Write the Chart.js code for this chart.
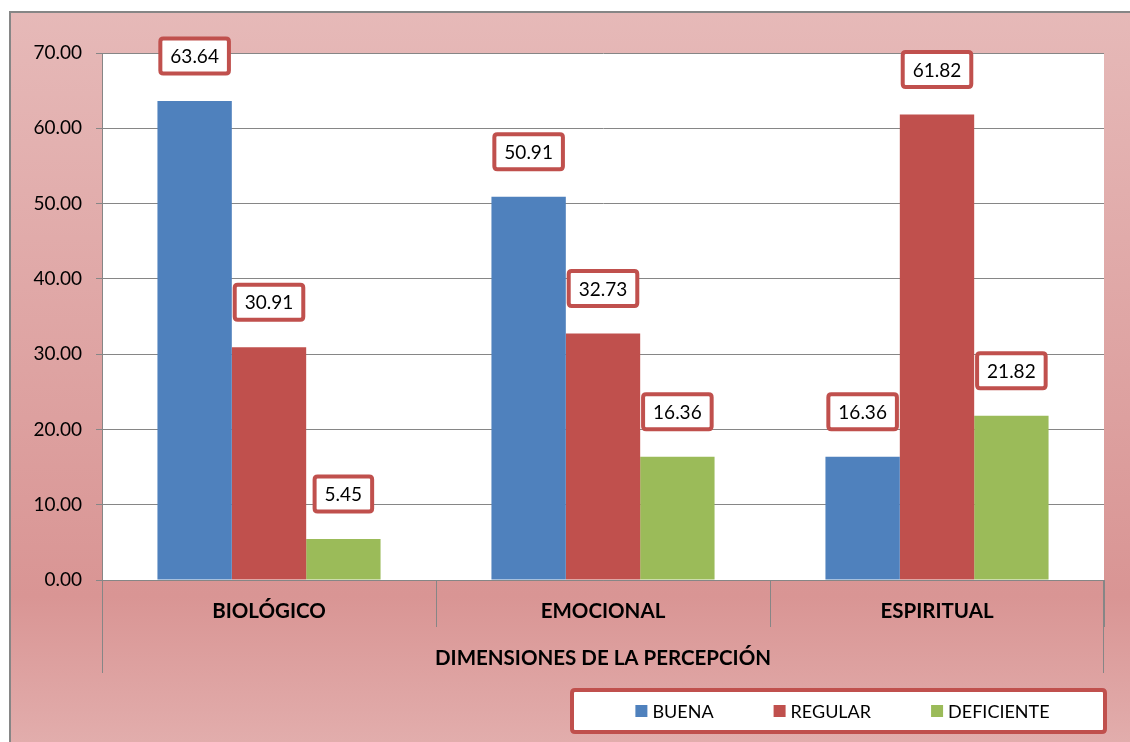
<!DOCTYPE html>
<html>
<head>
<meta charset="utf-8">
<script src="https://cdn.jsdelivr.net/npm/chart.js@4.4.0/dist/chart.umd.min.js"></script>
<style>
    html, body { margin: 0; padding: 0; background: #fff; }
    canvas { display: block; }
</style>
</head>
<body>
<canvas id="percepcionChart" width="1130" height="742"></canvas>
<script>
// datos del gráfico
const categories = ['BIOLÓGICO', 'EMOCIONAL', 'ESPIRITUAL'];
const seriesNames = ['BUENA', 'REGULAR', 'DEFICIENTE'];
const buena = [63.64, 50.91, 16.36];
const regular = [30.91, 32.73, 61.82];
const deficiente = [5.45, 16.36, 21.82];
const yTickLabels = ['0.00', '10.00', '20.00', '30.00', '40.00', '50.00', '60.00', '70.00'];
const axisTitle = 'DIMENSIONES DE LA PERCEPCIÓN';

const colors = ['#4f81bd', '#c0504d', '#9bbb59'];
const gridGrey = '#868686';
const FONT = 'Lato, "Open Sans", sans-serif';

// fondo degradado + área de trazado blanca
const backgroundPlugin = {
    id: 'background',
    beforeDraw(chart) {
        const { ctx, width, height, chartArea } = chart;
        ctx.save();
        const grad = ctx.createLinearGradient(0, 12, 0, height);
        grad.addColorStop(0, '#e6b9b8');
        grad.addColorStop(0.8, '#d99594');
        grad.addColorStop(1, '#e2adac');
        ctx.fillStyle = grad;
        ctx.fillRect(10, 12, width - 10, height - 12);
        ctx.strokeStyle = gridGrey;
        ctx.lineWidth = 2;
        ctx.beginPath();
        ctx.moveTo(10, height);
        ctx.lineTo(10, 12);
        ctx.lineTo(width, 12);
        ctx.stroke();
        ctx.fillStyle = '#ffffff';
        ctx.fillRect(chartArea.left, chartArea.top, chartArea.right - chartArea.left, chartArea.bottom - chartArea.top);
        ctx.restore();
    }
};

// líneas exteriores del eje de categorías (dos niveles)
const axisFramePlugin = {
    id: 'axisFrame',
    afterDraw(chart) {
        const { ctx } = chart;
        const x = chart.scales.x;
        ctx.save();
        ctx.strokeStyle = gridGrey;
        ctx.lineWidth = 1;
        ctx.beginPath();
        ctx.moveTo(Math.round(x.left) + 0.5, x.top);
        ctx.lineTo(Math.round(x.left) + 0.5, x.top + 93);
        ctx.moveTo(Math.round(x.right) - 0.5, x.top);
        ctx.lineTo(Math.round(x.right) - 0.5, x.top + 93);
        ctx.stroke();
        ctx.restore();
    }
};

function roundBox(ctx, x, y, w, h, r) {
    ctx.beginPath();
    ctx.moveTo(x + r, y);
    ctx.lineTo(x + w - r, y);
    ctx.quadraticCurveTo(x + w, y, x + w, y + r);
    ctx.lineTo(x + w, y + h - r);
    ctx.quadraticCurveTo(x + w, y + h, x + w - r, y + h);
    ctx.lineTo(x + r, y + h);
    ctx.quadraticCurveTo(x, y + h, x, y + h - r);
    ctx.lineTo(x, y + r);
    ctx.quadraticCurveTo(x, y, x + r, y);
    ctx.closePath();
}

// etiquetas de datos en recuadros
const valueLabelPlugin = {
    id: 'valueLabels',
    afterDatasetsDraw(chart) {
        const { ctx } = chart;
        ctx.save();
        ctx.font = '19px ' + FONT;
        ctx.textAlign = 'center';
        ctx.textBaseline = 'middle';
        chart.data.datasets.forEach((ds, i) => {
            chart.getDatasetMeta(i).data.forEach((bar, j) => {
                const text = ds.data[j].toFixed(2);
                const w = ctx.measureText(text).width + 20;
                const h = 35;
                const cy = bar.y - 45;
                roundBox(ctx, bar.x - w / 2, cy - h / 2, w, h, 3);
                ctx.fillStyle = '#ffffff';
                ctx.fill();
                ctx.lineWidth = 4;
                ctx.strokeStyle = '#c0504d';
                ctx.stroke();
                ctx.fillStyle = '#000000';
                ctx.fillText(text, bar.x, cy + 1);
            });
        });
        ctx.restore();
    }
};

// leyenda en recuadro abajo a la derecha
const boxedLegendPlugin = {
    id: 'boxedLegend',
    afterDraw(chart) {
        const { ctx, chartArea } = chart;
        const left = 572, right = chartArea.right + 1, top = 690, bottom = 732;
        ctx.save();
        roundBox(ctx, left, top, right - left, bottom - top, 3);
        ctx.fillStyle = '#ffffff';
        ctx.fill();
        ctx.lineWidth = 4;
        ctx.strokeStyle = '#c0504d';
        ctx.stroke();

        ctx.font = '18px ' + FONT;
        ctx.textBaseline = 'middle';
        const gap = 60;
        const items = chart.data.datasets.map(ds => ({
            label: ds.label, color: ds.backgroundColor, w: 17 + ctx.measureText(ds.label).width
        }));
        const total = items.reduce((s, it) => s + it.w, 0) + gap * (items.length - 1);
        let x = (left + right) / 2 - total / 2 + 4;
        const cy = (top + bottom) / 2;
        items.forEach(it => {
            ctx.fillStyle = it.color;
            ctx.fillRect(x, cy - 6, 12, 12);
            ctx.fillStyle = '#000000';
            ctx.fillText(it.label, x + 17, cy + 1);
            x += it.w + gap;
        });
        ctx.restore();
    }
};

const ctx = document.getElementById('percepcionChart').getContext('2d');
const percepcionChart = new Chart(ctx, {
    type: 'bar',
    data: {
        labels: categories,
        datasets: [buena, regular, deficiente].map((values, i) => ({
            label: seriesNames[i],
            data: values,
            backgroundColor: colors[i],
            borderWidth: 0,
            barPercentage: 1,
            categoryPercentage: 0.668
        }))
    },
    options: {
        responsive: false,
        animation: false,
        devicePixelRatio: 1,
        layout: { padding: { left: 10, right: 26, top: 53, bottom: 60 } },
        plugins: {
            legend: { display: false },
            tooltip: { enabled: false }
        },
        scales: {
            y: {
                min: 0,
                max: 70,
                ticks: {
                    stepSize: 10,
                    padding: 14,
                    color: '#000000',
                    font: { family: FONT, size: 19 },
                    callback: (value) => yTickLabels[value / 10]
                },
                grid: { color: gridGrey, tickLength: 6, tickColor: gridGrey },
                border: { color: gridGrey },
                afterFit: (scale) => { scale.width = 92; }
            },
            x: {
                ticks: {
                    padding: -28,
                    color: '#000000',
                    font: { family: FONT, size: 20.5, weight: 'bold' }
                },
                grid: {
                    offset: true,
                    drawOnChartArea: false,
                    tickLength: 47,
                    color: gridGrey
                },
                border: { color: gridGrey },
                title: {
                    display: true,
                    text: axisTitle,
                    color: '#000000',
                    font: { family: FONT, size: 20.5, weight: 'bold' },
                    padding: { top: 0, bottom: 11 }
                },
                afterFit: (scale) => { scale.height = 102; }
            }
        }
    },
    plugins: [backgroundPlugin, valueLabelPlugin, axisFramePlugin, boxedLegendPlugin]
});
</script>
</body>
</html>
